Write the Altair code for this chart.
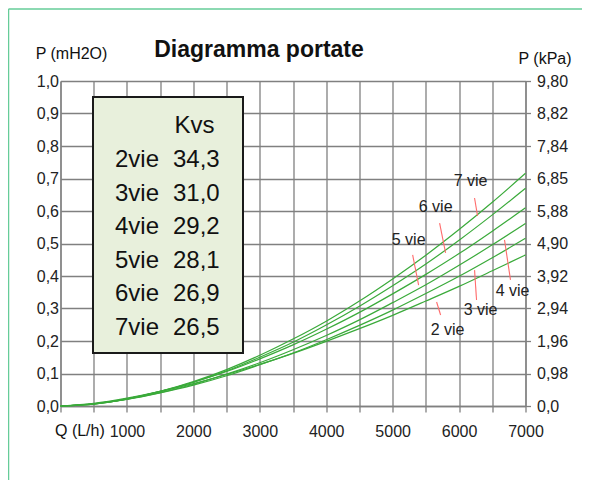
import altair as alt
import pandas as pd

# ---------------- data ----------------
flow = [0, 500, 1000, 1500, 2000, 2500, 3000, 3500, 4000, 4500, 5000, 5500, 6000, 6500, 7000]
p_2vie = [0, 0.008, 0.024, 0.045, 0.069, 0.097, 0.128, 0.162, 0.199, 0.238, 0.279, 0.323, 0.368, 0.416, 0.465]
p_3vie = [0, 0.007, 0.020, 0.040, 0.064, 0.093, 0.127, 0.163, 0.204, 0.248, 0.295, 0.346, 0.399, 0.456, 0.516]
p_4vie = [0, 0.006, 0.021, 0.041, 0.067, 0.098, 0.133, 0.173, 0.217, 0.265, 0.318, 0.373, 0.433, 0.496, 0.562]
p_5vie = [0, 0.007, 0.022, 0.045, 0.073, 0.106, 0.145, 0.188, 0.236, 0.288, 0.345, 0.405, 0.469, 0.538, 0.610]
p_6vie = [0, 0.006, 0.021, 0.044, 0.073, 0.108, 0.150, 0.196, 0.249, 0.307, 0.370, 0.437, 0.510, 0.588, 0.670]
p_7vie = [0, 0.006, 0.022, 0.045, 0.075, 0.112, 0.156, 0.206, 0.261, 0.323, 0.391, 0.464, 0.543, 0.627, 0.716]

curve_names = ["2 vie", "3 vie", "4 vie", "5 vie", "6 vie", "7 vie"]
table_ways = ["2vie", "3vie", "4vie", "5vie", "6vie", "7vie"]
table_kvs = ["34,3", "31,0", "29,2", "28,1", "26,9", "26,5"]

x_ticks = [0, 500, 1000, 1500, 2000, 2500, 3000, 3500, 4000, 4500, 5000, 5500, 6000, 6500, 7000]
y_ticks = [0.0, 0.1, 0.2, 0.3, 0.4, 0.5, 0.6, 0.7, 0.8, 0.9, 1.0]
kpa_labels = ["0,0", "0,98", "1,96", "2,94", "3,92", "4,90", "5,88", "6,85", "7,84", "8,82", "9,80"]

# ---------------- tables built from the arrays ----------------
series = [p_2vie, p_3vie, p_4vie, p_5vie, p_6vie, p_7vie]
rows = []
for name, vals in zip(curve_names, series):
    for q, p in zip(flow, vals):
        rows.append({"curve": name, "q": q, "p": p})
df = pd.DataFrame(rows)

# annotation layout (label anchor and pointer segment per curve, in data units)
ann = pd.DataFrame({
    "text": curve_names,
    "lx": [5827, 6323, 6805, 5241, 5647, 6173],
    "ly": [0.234, 0.295, 0.354, 0.511, 0.612, 0.692],
    "x1": [5662, 6233, 6684, 5301, 5707, 6233],
    "y1": [0.320, 0.418, 0.511, 0.465, 0.563, 0.640],
    "x2": [5722, 6263, 6774, 5391, 5797, 6278],
    "y2": [0.280, 0.326, 0.388, 0.372, 0.471, 0.585],
})

tbl = pd.DataFrame({"way": ["Kvs"] + table_ways, "kvs": [""] + table_kvs,
                    "row": list(range(-1, len(table_ways)))})

W, H = 465, 325
SANS = "Liberation Sans, Arial, sans-serif"
GRID = "#808080"
LBL = 16

x_scale = alt.Scale(domain=[0, 7000], nice=False, zero=True)
y_scale = alt.Scale(domain=[0, 1], nice=False, zero=True)

curves = alt.Chart(df).mark_line(color="#3aaa3a", strokeWidth=1.2, interpolate="monotone").encode(
    x=alt.X("q:Q", scale=x_scale, axis=alt.Axis(
        values=x_ticks, title=None, grid=True, gridColor=GRID, gridWidth=1.3,
        domainColor=GRID, domainWidth=1.3, tickColor=GRID, tickSize=6, tickWidth=1.3,
        labelExpr="datum.value % 1000 == 0 && datum.value > 0 ? format(datum.value, 'd') : ''",
        labelFont=SANS, labelFontSize=LBL, labelColor="#222222", labelPadding=11,
        labelFlush=False, labelOverlap=False)),
    y=alt.Y("p:Q", scale=y_scale, axis=alt.Axis(
        orient="left", values=y_ticks, title=None, grid=True, gridColor=GRID, gridWidth=1.3,
        domainColor=GRID, domainWidth=1.3, tickSize=0,
        labelExpr="replace(format(datum.value, '.1f'), '.', ',')",
        labelFont=SANS, labelFontSize=LBL, labelColor="#222222", labelPadding=2,
        labelFlush=False, labelOverlap=False)),
    detail="curve:N",
)

kpa_expr = "[" + ",".join("'" + s + "'" for s in kpa_labels) + "][round(datum.value * 10)]"
right_axis = alt.Chart(df).mark_point(opacity=0).encode(
    x=alt.X("q:Q", scale=x_scale, axis=None),
    y=alt.Y("p:Q", scale=y_scale, axis=alt.Axis(
        orient="right", values=y_ticks, title=None, grid=False,
        domainColor=GRID, domainWidth=1.3, tickColor=GRID, tickSize=5, tickWidth=1.3,
        labelExpr=kpa_expr, labelFont=SANS, labelFontSize=LBL, labelColor="#222222",
        labelPadding=6, labelFlush=False, labelOverlap=False)),
)

pointers = alt.Chart(ann).mark_rule(color="#ff6b6b", strokeWidth=1.1).encode(
    x=alt.X("x1:Q", scale=x_scale, axis=None), x2="x2:Q",
    y=alt.Y("y1:Q", scale=y_scale, axis=None), y2="y2:Q",
)
ann_text = alt.Chart(ann).mark_text(font=SANS, fontSize=LBL, color="#222222",
                                     align="center", baseline="middle").encode(
    x=alt.X("lx:Q", scale=x_scale, axis=None),
    y=alt.Y("ly:Q", scale=y_scale, axis=None),
    text="text:N",
)

one = pd.DataFrame({"a": [0]})
box = alt.Chart(one).mark_rect(fill="#e8f0dc", stroke="#1a1a1a", strokeWidth=2).encode(
    x=alt.value(32.5), x2=alt.value(182.5), y=alt.value(16), y2=alt.value(272))

tbl_base = alt.Chart(tbl).transform_calculate(ty="0.757 - datum.row * 0.1034")
tbl_way = tbl_base.transform_filter("datum.row >= 0").mark_text(
    font=SANS, fontSize=24, color="#111111", align="left", baseline="middle").encode(
    x=alt.value(54.5), y=alt.Y("ty:Q", scale=y_scale, axis=None), text="way:N")
tbl_head = tbl_base.transform_filter("datum.row < 0").mark_text(
    font=SANS, fontSize=24, color="#111111", align="left", baseline="middle").encode(
    x=alt.value(114), y=alt.Y("ty:Q", scale=y_scale, axis=None), text="way:N")
tbl_kvs = tbl_base.transform_filter("datum.row >= 0").mark_text(
    font=SANS, fontSize=24, color="#111111", align="left", baseline="middle").encode(
    x=alt.value(112.5), y=alt.Y("ty:Q", scale=y_scale, axis=None), text="kvs:N")

def label(txt, x, y, size, weight="normal", align="center"):
    return alt.Chart(pd.DataFrame({"t": [txt]})).mark_text(
        font=SANS, fontSize=size, fontWeight=weight, color="#111111",
        align=align, baseline="alphabetic").encode(
        x=alt.value(x), y=alt.value(y), text="t:N")

title = label("Diagramma portate", 198.5, -24, 23, weight="bold")
left_title = label("P (mH2O)", 11, -22, LBL)
right_title = label("P (kPa)", 484.5, -17, LBL)
q_title = label("Q (L/h)", -5.5, 355, LBL, align="left")

border_top = alt.Chart(one).mark_rule(color="#66cc99", strokeWidth=1.5).encode(
    x=alt.value(-52), x2=alt.value(W + 60), y=alt.value(-72))
border_left = alt.Chart(one).mark_rule(color="#66cc99", strokeWidth=1.5).encode(
    x=alt.value(-52), y=alt.value(-72), y2=alt.value(H + 80))

chart = alt.layer(
    curves, right_axis, pointers, ann_text, box, tbl_head, tbl_way, tbl_kvs,
    title, left_title, right_title, q_title, border_top, border_left,
).resolve_axis(x="independent", y="independent").properties(
    width=W, height=H,
    padding={"left": 52.5, "top": 73, "right": 56, "bottom": 74},
    autosize=alt.AutoSizeParams(type="none"),
    background="white",
).configure_view(strokeWidth=0)

chart.save("out.html", embed_options={"renderer": "svg", "actions": False})
